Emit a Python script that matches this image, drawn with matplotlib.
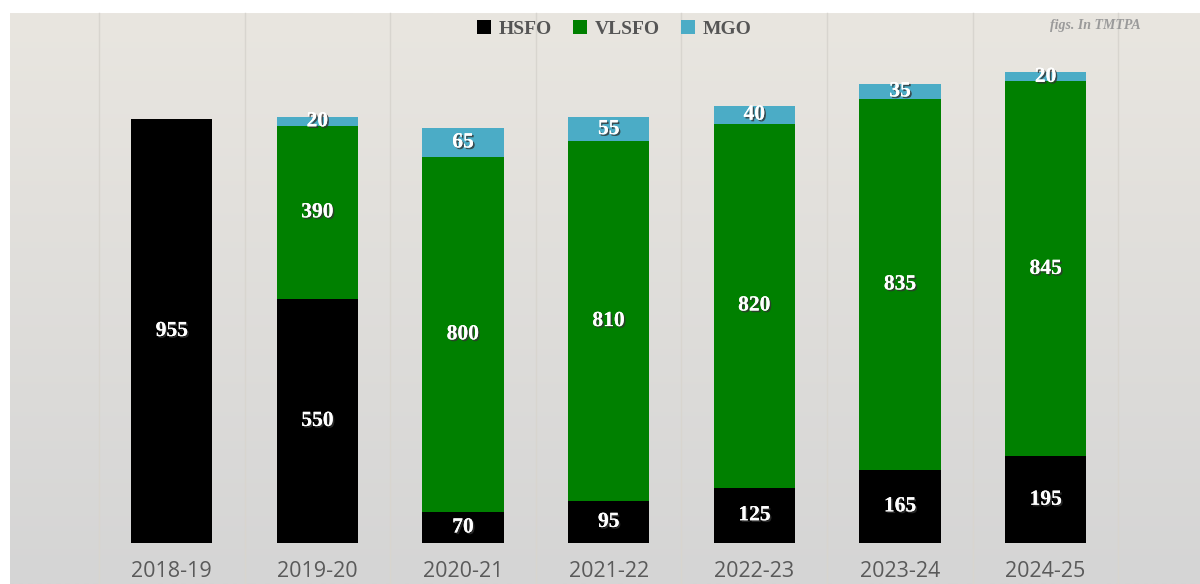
import numpy as np
import matplotlib.pyplot as plt
import matplotlib.patheffects as pe

years = ['2018-19', '2019-20', '2020-21', '2021-22', '2022-23', '2023-24', '2024-25']
hsfo = [955, 550, 70, 95, 125, 165, 195]
vlsfo = [0, 390, 800, 810, 820, 835, 845]
mgo = [0, 20, 65, 55, 40, 35, 20]

colors = {'HSFO': '#000000', 'VLSFO': '#008000', 'MGO': '#4bacc6'}

fig = plt.figure(figsize=(12, 5.84), dpi=100)
fig.patch.set_facecolor('white')

# gradient background
bg = fig.add_axes([10 / 1200, 0, 1190 / 1200, 571 / 584])
bg.axis('off')
top = np.array([0xe9, 0xe6, 0xe0]) / 255
bot = np.array([0xd5, 0xd5, 0xd5]) / 255
t = np.linspace(0, 1, 256)[:, None]
grad = top * (1 - t) + bot * t
bg.imshow(grad[:, None, :], aspect='auto', extent=[0, 1, 0, 1])

ax = fig.add_axes([10 / 1200, 41 / 584, 1190 / 1200, 530 / 584])
ax.patch.set_alpha(0)
x = np.arange(len(years))
w = 0.56

b1 = ax.bar(x, hsfo, w, color=colors['HSFO'], label='HSFO', zorder=3)
b2 = ax.bar(x, vlsfo, w, bottom=hsfo, color=colors['VLSFO'], label='VLSFO', zorder=3)
bottom3 = [h + v for h, v in zip(hsfo, vlsfo)]
b3 = ax.bar(x, mgo, w, bottom=bottom3, color=colors['MGO'], label='MGO', zorder=3)

# vertical separators between categories
for g in np.arange(-0.5, len(years) + 0.5, 1):
    ax.axvline(g, color='#d8d5cf', lw=1, zorder=1, ymin=-0.08, clip_on=False)

shadow = [pe.withSimplePatchShadow(offset=(1.2, -1.2), shadow_rgbFace='#333333', alpha=0.8), pe.Normal()]
for bars, vals, bots in [(b1, hsfo, [0] * 7), (b2, vlsfo, hsfo), (b3, mgo, bottom3)]:
    for xi, v, b in zip(x, vals, bots):
        if v == 0:
            continue
        ax.text(xi, b + v / 2, str(v), ha='center', va='center', color='white',
                fontsize=15.5, fontweight='bold', family='Liberation Serif',
                path_effects=shadow, zorder=4)

ax.set_xlim(-1.11, 7.06)
ax.set_ylim(0, 1194)
ax.set_xticks(x)
ax.set_xticklabels(years, fontsize=15.5, color='#5a5a5a', family='Open Sans')
ax.tick_params(axis='x', length=0, pad=13)
ax.set_yticks([])
for s in ax.spines.values():
    s.set_visible(False)

leg = ax.legend(loc='upper center', bbox_to_anchor=(0.508, 1.02), ncol=3, frameon=False,
                handlelength=0.7, handleheight=0.7, handletextpad=0.4, columnspacing=1.1,
                prop={'family': 'Liberation Serif', 'weight': 'bold', 'size': 14})
for txt in leg.get_texts():
    txt.set_color('#555555')

fig.text(1095 / 1200, 1 - 25 / 584, 'figs. In TMTPA', ha='center', va='center',
         fontsize=10, style='italic', fontweight='bold', family='Liberation Serif', color='#9a9a9a')

fig.savefig('out.png', dpi=100)
